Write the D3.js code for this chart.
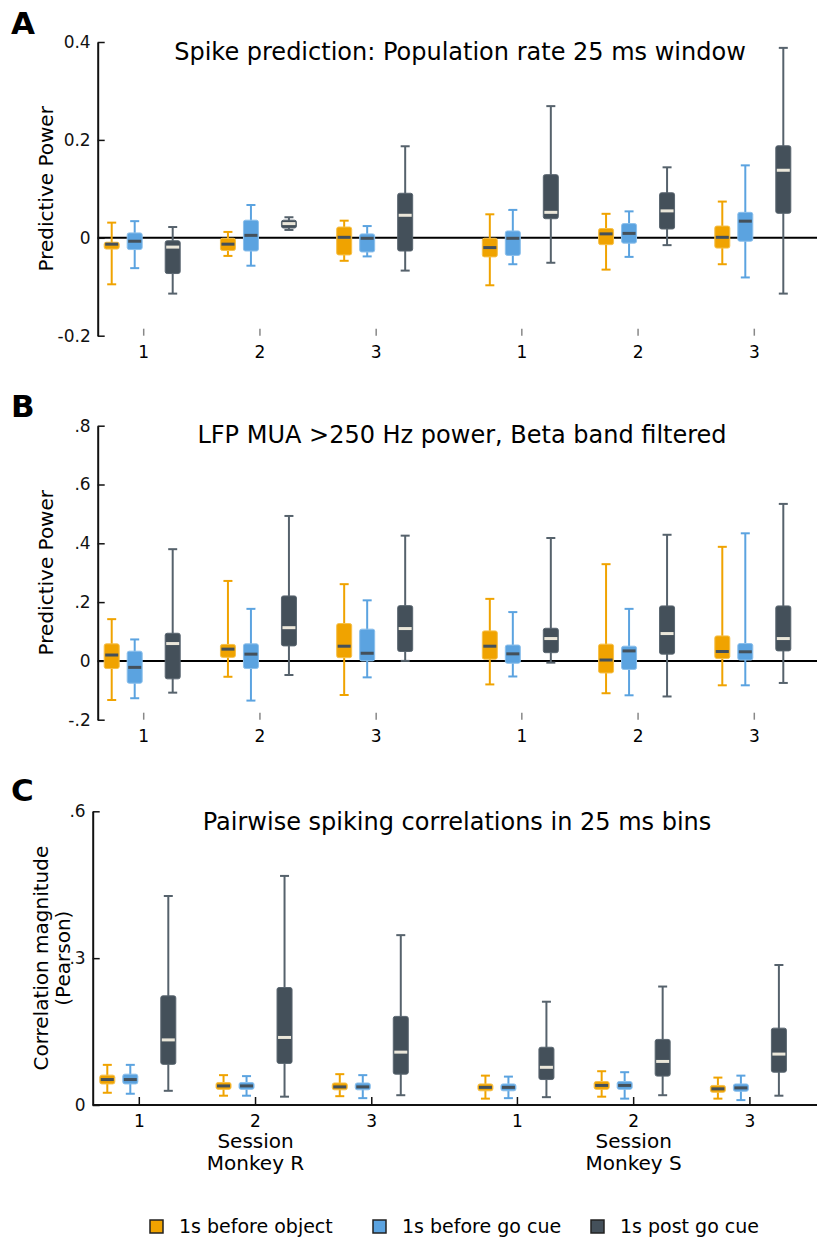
<!DOCTYPE html>
<html>
<head>
<meta charset="utf-8">
<script src="https://cdn.jsdelivr.net/npm/d3@7"></script>
<style>
  body { margin: 0; background: #fff; }
  svg { display: block; font-family: "DejaVu Sans", sans-serif; }
</style>
</head>
<body>
<script>
// session labels along x, two monkeys with 3 sessions each
const sessionLabels = ["1", "2", "3", "1", "2", "3"];
const monkeyLabels = ["Monkey R", "Monkey S"];
const conditionNames = ["1s before object", "1s before go cue", "1s post go cue"];

// each box: [whisker low, q1, median, q3, whisker high]
const spikeObject = [[-0.095,-0.023,-0.013,-0.009,0.031],[-0.037,-0.026,-0.013,-0.001,0.012],[-0.047,-0.035,0.001,0.022,0.035],[-0.097,-0.039,-0.020,-0.001,0.048],[-0.065,-0.014,0.008,0.019,0.049],[-0.054,-0.021,0.001,0.024,0.074]];
const spikeGoCue = [[-0.062,-0.024,-0.007,0.010,0.034],[-0.057,-0.027,0.005,0.036,0.067],[-0.038,-0.029,-0.001,0.008,0.024],[-0.054,-0.036,-0.001,0.014,0.057],[-0.039,-0.011,0.009,0.029,0.054],[-0.081,-0.007,0.034,0.052,0.148]];
const spikePost = [[-0.114,-0.073,-0.019,-0.006,0.022],[0.016,0.020,0.029,0.036,0.042],[-0.067,-0.027,0.046,0.091,0.187],[-0.051,0.039,0.052,0.129,0.269],[-0.015,0.018,0.055,0.092,0.144],[-0.114,0.050,0.138,0.188,0.388]];

const lfpObject = [[-0.133,-0.026,0.020,0.058,0.142],[-0.054,0.012,0.040,0.056,0.272],[-0.116,0.011,0.050,0.127,0.261],[-0.080,0.006,0.050,0.102,0.211],[-0.110,-0.041,0.003,0.057,0.329],[-0.083,0.008,0.032,0.085,0.388]];
const lfpGoCue = [[-0.127,-0.076,-0.022,0.033,0.073],[-0.135,-0.026,0.023,0.058,0.177],[-0.056,0.000,0.026,0.108,0.206],[-0.053,-0.008,0.024,0.054,0.166],[-0.117,-0.029,0.034,0.050,0.177],[-0.083,0.003,0.031,0.059,0.434]];
const lfpPost = [[-0.108,-0.061,0.059,0.094,0.380],[-0.048,0.051,0.113,0.221,0.493],[0.000,0.032,0.110,0.188,0.426],[-0.006,0.028,0.076,0.111,0.418],[-0.121,0.023,0.093,0.187,0.429],[-0.075,0.034,0.076,0.187,0.534]];

const corrObject = [[0.025,0.043,0.052,0.061,0.082],[0.019,0.032,0.039,0.046,0.061],[0.018,0.031,0.037,0.045,0.063],[0.013,0.029,0.036,0.043,0.060],[0.017,0.032,0.040,0.048,0.069],[0.013,0.026,0.033,0.040,0.056]];
const corrGoCue = [[0.023,0.043,0.052,0.063,0.082],[0.019,0.032,0.039,0.046,0.059],[0.014,0.031,0.037,0.045,0.061],[0.014,0.029,0.036,0.043,0.058],[0.013,0.032,0.040,0.048,0.067],[0.010,0.028,0.035,0.043,0.060]];
const corrPost = [[0.029,0.083,0.133,0.223,0.427],[0.017,0.085,0.138,0.240,0.468],[0.020,0.063,0.108,0.181,0.347],[0.016,0.052,0.077,0.118,0.211],[0.020,0.059,0.089,0.134,0.242],[0.019,0.067,0.104,0.157,0.286]];

const spikeTicks = [-0.2, 0, 0.2, 0.4];
const spikeTickLabels = ["-0.2", "0", "0.2", "0.4"];
const lfpTicks = [-0.2, 0, 0.2, 0.4, 0.6, 0.8];
const lfpTickLabels = ["-.2", "0", ".2", ".4", ".6", ".8"];
const corrTicks = [0, 0.3, 0.6];
const corrTickLabels = ["0", ".3", ".6"];

// styling
const fills = ["#f0a300", "#5ba3e0", "#44505a"];
const strokes = ["#f6c04a", "#8cc0ec", "#5a6670"];
const whiskerColors = ["#f0a300", "#5ba3e0", "#56626c"];
const medianColors = ["#44505a", "#44505a", "#ebe7da"];
const boxOffsets = [-32, -9, 29];
const boxW = 15, capW = 9, medW = 13;

const W = 817, H = 1239;
const svg = d3.select("body").append("svg").attr("width", W).attr("height", H);

const panels = [
  { letter: "A", letterY: 34, title: "Spike prediction: Population rate 25 ms window", titleX: 460, titleY: 60,
    series: [spikeObject, spikeGoCue, spikePost], domain: [-0.2, 0.4], range: [335.7, 42],
    ticks: spikeTicks, tickLabels: spikeTickLabels, axisX: 97.7, shift: 0, zeroLine: true,
    ylabel: ["Predictive Power"], ylabelX: 53, xlabelY: 358 },
  { letter: "B", letterY: 417, title: "LFP MUA >250 Hz power, Beta band filtered", titleX: 462, titleY: 443,
    series: [lfpObject, lfpGoCue, lfpPost], domain: [-0.2, 0.8], range: [719.7, 425.7],
    ticks: lfpTicks, tickLabels: lfpTickLabels, axisX: 97.7, shift: 0, zeroLine: true,
    ylabel: ["Predictive Power"], ylabelX: 53, xlabelY: 742 },
  { letter: "C", letterY: 801, title: "Pairwise spiking correlations in 25 ms bins", titleX: 457, titleY: 830,
    series: [corrObject, corrGoCue, corrPost], domain: [0, 0.6], range: [1105, 811.3],
    ticks: corrTicks, tickLabels: corrTickLabels, axisX: 92.7, shift: -4.4, zeroLine: false,
    ylabel: ["Correlation magnitude", "(Pearson)"], ylabelX: 48, xlabelY: 1127 }
];

panels.forEach(p => {
  const g = svg.append("g");
  const y = d3.scaleLinear().domain(p.domain).range(p.range);
  // sessions of the second monkey sit after a wider gap
  const x = d3.scaleLinear().domain([0, 5.253]).range([143.7 + p.shift, 754.3 + p.shift]);
  const slot = i => x(i + (i >= 3 ? 0.253 : 0));
  const bottom = p.range[0];

  g.append("text").attr("x", 11).attr("y", p.letterY)
    .attr("font-size", 31).attr("font-weight", "bold").text(p.letter);
  g.append("text").attr("x", p.titleX).attr("y", p.titleY)
    .attr("text-anchor", "middle").attr("font-size", 24).text(p.title);

  // y label
  const cy = (p.range[0] + p.range[1]) / 2;
  p.ylabel.forEach((line, k) => {
    g.append("text")
      .attr("transform", `translate(${p.ylabelX + k * 22},${cy}) rotate(-90)`)
      .attr("text-anchor", "middle").attr("font-size", 20).text(line);
  });

  if (p.zeroLine) {
    g.append("line").attr("x1", p.axisX).attr("x2", W).attr("y1", y(0)).attr("y2", y(0))
      .attr("stroke", "#000").attr("stroke-width", 2);
  }

  // y axis
  const yAxis = d3.axisLeft(y).tickValues(p.ticks)
    .tickFormat((d, i) => p.tickLabels[i])
    .tickSizeInner(-7).tickSizeOuter(0).tickPadding(7);
  const ya = g.append("g").attr("transform", `translate(${p.axisX},0)`).call(yAxis);
  ya.select(".domain").attr("stroke", "#111").attr("stroke-width", 2);
  ya.selectAll(".tick line").attr("stroke", "#111").attr("stroke-width", 1.5);
  ya.selectAll(".tick text").attr("font-size", 17).attr("font-family", "DejaVu Sans").attr("fill", "#111");

  // x ticks and labels
  if (p.zeroLine) {
    g.selectAll(".xt").data(sessionLabels).enter().append("line")
      .attr("x1", (d, i) => slot(i)).attr("x2", (d, i) => slot(i))
      .attr("y1", bottom - 7).attr("y2", bottom)
      .attr("stroke", "#888").attr("stroke-width", 1.5);
  } else {
    g.append("line").attr("x1", p.axisX).attr("x2", W).attr("y1", bottom).attr("y2", bottom)
      .attr("stroke", "#111").attr("stroke-width", 2);
    g.selectAll(".xt").data(sessionLabels).enter().append("line")
      .attr("x1", (d, i) => slot(i)).attr("x2", (d, i) => slot(i))
      .attr("y1", bottom - 8).attr("y2", bottom)
      .attr("stroke", "#111").attr("stroke-width", 1.5);
    monkeyLabels.forEach((m, k) => {
      const cx = slot(k * 3 + 1);
      g.append("text").attr("x", cx).attr("y", 1148).attr("text-anchor", "middle")
        .attr("font-size", 20).text("Session");
      g.append("text").attr("x", cx).attr("y", 1170).attr("text-anchor", "middle")
        .attr("font-size", 20).text(m);
    });
  }
  g.selectAll(".xl").data(sessionLabels).enter().append("text")
    .attr("x", (d, i) => slot(i)).attr("y", p.xlabelY)
    .attr("text-anchor", "middle").attr("font-size", 17).text(d => d);

  // boxes
  p.series.forEach((ser, c) => {
    const bg = g.append("g");
    const items = bg.selectAll("g").data(ser).enter().append("g")
      .attr("transform", (d, i) => `translate(${slot(i) + boxOffsets[c]},0)`);
    items.append("line").attr("x1", 0).attr("x2", 0)
      .attr("y1", d => y(d[0])).attr("y2", d => y(d[4]))
      .attr("stroke", whiskerColors[c]).attr("stroke-width", 2);
    items.append("line").attr("x1", -capW / 2).attr("x2", capW / 2)
      .attr("y1", d => y(d[0])).attr("y2", d => y(d[0]))
      .attr("stroke", whiskerColors[c]).attr("stroke-width", 2);
    items.append("line").attr("x1", -capW / 2).attr("x2", capW / 2)
      .attr("y1", d => y(d[4])).attr("y2", d => y(d[4]))
      .attr("stroke", whiskerColors[c]).attr("stroke-width", 2);
    items.append("rect").attr("x", -boxW / 2).attr("width", boxW)
      .attr("y", d => y(d[3])).attr("height", d => Math.max(1, y(d[1]) - y(d[3])))
      .attr("rx", 2)
      .attr("fill", fills[c]).attr("stroke", strokes[c]).attr("stroke-width", 1);
    items.append("line").attr("x1", -medW / 2).attr("x2", medW / 2)
      .attr("y1", d => y(d[2])).attr("y2", d => y(d[2]))
      .attr("stroke", medianColors[c]).attr("stroke-width", 3);
  });
});

// legend
const legendX = [150, 373, 591];
const legend = svg.append("g");
conditionNames.forEach((name, c) => {
  legend.append("rect").attr("x", legendX[c]).attr("y", 1220).attr("width", 13).attr("height", 13)
    .attr("fill", fills[c]).attr("stroke", "#222").attr("stroke-width", 1.5);
  legend.append("text").attr("x", legendX[c] + 29).attr("y", 1233)
    .attr("font-size", 19).text(name);
});
</script>
</body>
</html>
